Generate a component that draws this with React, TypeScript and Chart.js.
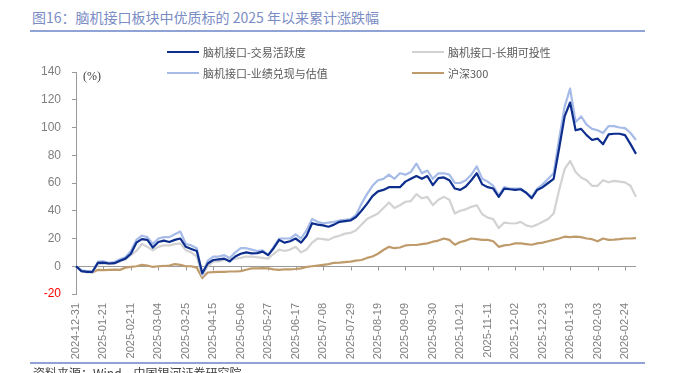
import React, { useEffect, useRef } from "react";
import { Chart, registerables } from "chart.js";

Chart.register(...registerables);

const titleText = "图16：脑机接口板块中优质标的 2025 年以来累计涨跌幅";
const sourceText = "资料来源：Wind，中国银河证券研究院";
const unitText = "(%)";

const tickDates = [
  "2024-12-31", "2025-01-21", "2025-02-11", "2025-03-04", "2025-03-25",
  "2025-04-15", "2025-05-06", "2025-05-27", "2025-06-17", "2025-07-08",
  "2025-07-29", "2025-08-19", "2025-09-09", "2025-09-30", "2025-10-21",
  "2025-11-11", "2025-12-02", "2025-12-23", "2026-01-13", "2026-02-03",
  "2026-02-24",
];
const POINTS_PER_TICK = 5;

const seriesNames = [
  "脑机接口-交易活跃度",
  "脑机接口-长期可投性",
  "脑机接口-业绩兑现与估值",
  "沪深300",
];

// 脑机接口-交易活跃度
const activity = [
  0, -3.5, -4, -4, 2.5, 2.6, 2, 2.2, 4, 5.5,
  9, 17, 19.5, 19, 13.5, 17.5, 18.5, 17.5, 19, 20,
  14, 12.5, 11, -5, 2, 4.5, 5, 5.5, 3.5, 7,
  9, 10, 9.3, 9.5, 10.5, 8, 13, 19, 17, 18,
  20, 17, 22, 31, 30, 29.5, 28.5, 30, 32, 32.5,
  33, 35.5, 40, 45, 50.5, 54, 55, 57, 57, 57,
  61, 63, 65, 63, 65, 58.5, 63.5, 64, 62, 56,
  55, 57.5, 62, 67, 59, 57, 56, 50, 56, 55.5,
  55, 55.5, 53, 49, 55, 57, 60, 63, 85, 108,
  118, 98, 99, 94.5, 91, 92, 88, 95, 95.5, 95.5,
  94.5, 88, 81,
];

// 脑机接口-长期可投性
const longTerm = [
  0, -3.5, -4.5, -4.5, 1.5, 2, 1.5, 2, 3.5, 5,
  8, 11, 16, 14, 11.5, 14, 15, 15, 16, 16.5,
  11.5, 10, 7, -7, 0, 3.3, 3.5, 4.5, 5.5, 5.5,
  6, 7, 7, 6.5, 6, 5.5, 9, 12, 11, 12,
  14, 10, 12, 17, 20, 19.5, 19, 21, 22, 23.5,
  24, 26, 30, 34, 36, 38, 42, 46, 42, 44,
  46.5, 47, 52, 49, 50, 44, 48, 50, 48, 38,
  40, 41, 42.8, 44, 37.5, 35, 34, 27.5, 31.5, 31,
  30.8, 32, 29.5, 28.5, 30, 32, 34, 38, 55, 70,
  76, 68, 64, 62, 58, 58, 62, 60.5, 61.5, 61,
  60.5, 58, 50,
];

// 脑机接口-业绩兑现与估值
const valuation = [
  0, -3, -3.5, -4, 3.3, 3.5, 2.5, 3, 5, 6.5,
  11, 19, 22, 21, 16, 20, 21, 21, 23, 25,
  16, 15, 13, -6, 4, 7, 7, 8, 6, 10,
  13, 13, 12, 11, 11.5, 8, 14, 20, 20, 20,
  23, 20, 26, 34, 32, 31, 31.5, 32, 33, 33.5,
  34, 37, 45, 52, 58, 62, 63, 66, 63, 67,
  66, 68, 74, 67, 69, 63, 67, 67, 66, 60,
  60, 62, 66, 72, 63, 61, 58, 51, 57, 56,
  56, 56, 53, 50, 56, 59, 63, 67, 92, 115,
  128, 104, 108, 102, 99, 98, 96, 101, 101, 100,
  99.5, 96, 91,
];

// 沪深300
const hs300 = [
  0, -3.5, -3.8, -4.5, -2.6, -2.8, -2.6, -2.4, -2.6, -1,
  -0.5, 0, 1, 0.5, -0.5, 0, 0.2, 0.5, 1.5, 1,
  0, 0, -1, -8.5, -4.5, -4.2, -4, -4, -3.8, -3.8,
  -3.5, -2.5, -1.5, -1.5, -1.3, -1.5, -2.2, -2.6, -2.3, -2.3,
  -2, -1.5, -0.5, 0, 0.5, 1, 1.5, 2.5, 2.6, 3,
  3.3, 4, 4.5, 6, 7, 9, 11.7, 14, 13, 13.5,
  15, 15.3, 15.3, 16, 16.5, 17.7, 18.5, 20, 19, 15.5,
  17.5, 18.5, 20, 19.5, 19, 19, 18, 14, 15, 15.5,
  16.5, 16.5, 16, 15.5, 16.5, 17, 18, 19, 20, 21.3,
  21, 21.3, 21, 20, 19.5, 18, 20, 19, 19.2, 19.5,
  20, 20, 20.3,
];

const yMin = -20;
const yMax = 140;
const yStep = 20;

const categories = activity.map((_, i) =>
  i % POINTS_PER_TICK === 0 && tickDates[i / POINTS_PER_TICK] ? tickDates[i / POINTS_PER_TICK] : ""
);

const COLORS = {
  activity: "#0E2E8E",
  longTerm: "#D2D2D2",
  valuation: "#A6BBE8",
  hs300: "#BF9B6B",
};
const AXIS_COLOR = "#9A9A9A";
const TICK_TEXT = "#7F7F7F";
const SANS = '"Liberation Sans", Arial, sans-serif';
const CJK = '"Noto Sans CJK SC", "Noto Sans", sans-serif';

const zeroAxisPlugin = {
  id: "zeroAxis",
  beforeDatasetsDraw(chart: any) {
    const { ctx, chartArea, scales } = chart;
    const x = scales.x;
    const y = scales.y;
    const y0 = Math.round(y.getPixelForValue(0)) + 0.5;
    ctx.save();
    ctx.strokeStyle = AXIS_COLOR;
    ctx.lineWidth = 1;
    ctx.beginPath();
    ctx.moveTo(chartArea.left, y0);
    ctx.lineTo(chartArea.right, y0);
    categories.forEach((c, i) => {
      if (!c) return;
      const xp = Math.round(x.getPixelForValue(i)) + 0.5;
      ctx.moveTo(xp, y0);
      ctx.lineTo(xp, y0 + 4);
    });
    ctx.stroke();
    ctx.restore();
  },
};

export default function App() {
  const canvasRef = useRef<HTMLCanvasElement | null>(null);

  useEffect(() => {
    if (!canvasRef.current) return;
    const mk = (label: string, data: number[], color: string, width: number) => ({
      label,
      data,
      borderColor: color,
      backgroundColor: color,
      borderWidth: width,
      pointRadius: 0,
      tension: 0,
      fill: false,
    });
    const chart = new Chart(canvasRef.current, {
      type: "line",
      data: {
        labels: categories,
        datasets: [
          mk(seriesNames[0], activity, COLORS.activity, 2.2),
          mk(seriesNames[2], valuation, COLORS.valuation, 2.2),
          mk(seriesNames[1], longTerm, COLORS.longTerm, 2.2),
          mk(seriesNames[3], hs300, COLORS.hs300, 2.2),
        ],
      },
      options: {
        animation: false,
        responsive: false,
        maintainAspectRatio: false,
        devicePixelRatio: 1,
        layout: { padding: { top: 72, right: 40, bottom: 0, left: 0 } },
        plugins: { legend: { display: false }, tooltip: { enabled: false } },
        elements: { point: { radius: 0 }, line: { borderJoinStyle: "round" } },
        scales: {
          x: {
            type: "category",
            grid: { display: false, drawTicks: false },
            border: { display: false },
            ticks: {
              autoSkip: false,
              maxRotation: 90,
              minRotation: 90,
              padding: 9,
              color: TICK_TEXT,
              font: { family: SANS, size: 11 },
              callback: (_v: any, i: number) => (categories[i] ? categories[i] : null),
            },
            afterFit: (s: any) => {
              s.height = 79;
            },
          },
          y: {
            min: yMin,
            max: yMax,
            ticks: {
              stepSize: yStep,
              padding: 11,
              color: (c: any) => (c.tick && c.tick.value < 0 ? "#FF0000" : TICK_TEXT),
              font: { family: SANS, size: 12 },
            },
            grid: { drawOnChartArea: false, drawTicks: true, tickLength: 4, color: AXIS_COLOR },
            border: { display: true, color: AXIS_COLOR, width: 1 },
            afterFit: (s: any) => {
              s.width = 76;
            },
          },
        },
      } as any,
      plugins: [zeroAxisPlugin],
    });
    return () => chart.destroy();
  }, []);

  const legendItems = [
    { name: seriesNames[0], color: COLORS.activity, left: 167, top: 52 },
    { name: seriesNames[1], color: COLORS.longTerm, left: 412, top: 52 },
    { name: seriesNames[2], color: COLORS.valuation, left: 167, top: 73 },
    { name: seriesNames[3], color: COLORS.hs300, left: 412, top: 73 },
  ];

  return (
    <div
      style={{
        position: "fixed",
        left: 0,
        top: 0,
        width: 676,
        height: 373,
        overflow: "hidden",
        background: "#fff",
      }}
    >
      <div
        style={{
          position: "absolute",
          left: 32,
          top: 8,
          fontFamily: CJK,
          fontSize: 14,
          lineHeight: "18px",
          color: "#7A8CC4",
          whiteSpace: "nowrap",
        }}
      >
        {titleText}
      </div>
      <div style={{ position: "absolute", left: 30, top: 30, width: 615, height: 1.5, background: "#8FA3D6" }} />
      <canvas
        ref={canvasRef}
        width={676}
        height={373}
        style={{ position: "absolute", left: 0, top: 0, width: 676, height: 373 }}
      />
      {legendItems.map((it) => (
        <div
          key={it.name}
          style={{
            position: "absolute",
            left: it.left,
            top: it.top - 8,
            height: 16,
            display: "flex",
            alignItems: "center",
            whiteSpace: "nowrap",
          }}
        >
          <div style={{ width: 32, height: 2, background: it.color, marginRight: 4 }} />
          <span style={{ fontFamily: CJK, fontSize: 11, color: "#595959", lineHeight: "16px" }}>{it.name}</span>
        </div>
      ))}
      <div
        style={{
          position: "absolute",
          left: 83,
          top: 69,
          fontFamily: '"Liberation Serif", "Times New Roman", serif',
          fontSize: 12,
          lineHeight: "14px",
          color: "#404040",
        }}
      >
        {unitText}
      </div>
      <div style={{ position: "absolute", left: 30, top: 362, width: 615, height: 1.5, background: "#8FA3D6" }} />
      <div
        style={{
          position: "absolute",
          left: 33,
          top: 365,
          fontFamily: CJK,
          fontSize: 12,
          lineHeight: "16px",
          color: "#404040",
          whiteSpace: "nowrap",
        }}
      >
        {sourceText}
      </div>
    </div>
  );
}
